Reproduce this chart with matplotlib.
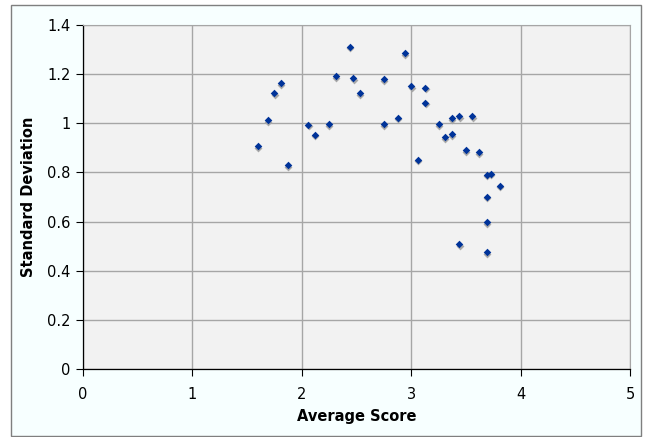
import matplotlib

matplotlib.use("Agg")
import matplotlib.pyplot as plt
from matplotlib.patches import Rectangle
from matplotlib.transforms import offset_copy

avg_score = [
    1.60, 1.69, 1.75, 1.81, 1.87, 2.06, 2.12, 2.25, 2.31, 2.44,
    2.47, 2.53, 2.75, 2.75, 2.88, 2.94, 3.00, 3.06, 3.13, 3.13,
    3.25, 3.31, 3.37, 3.37, 3.44, 3.44, 3.50, 3.56, 3.62, 3.69,
    3.73, 3.69, 3.69, 3.81, 3.69,
]
std_dev = [
    0.906, 1.012, 1.123, 1.164, 0.830, 0.994, 0.954, 0.996, 1.192, 1.312,
    1.183, 1.122, 1.179, 0.996, 1.022, 1.285, 1.152, 0.851, 1.145, 1.084,
    0.997, 0.943, 1.020, 0.955, 1.028, 0.509, 0.891, 1.028, 0.883, 0.791,
    0.795, 0.701, 0.598, 0.746, 0.475,
]
x_ticks = [0, 1, 2, 3, 4, 5]
y_ticks = [0, 0.2, 0.4, 0.6, 0.8, 1.0, 1.2, 1.4]
y_labels = ["0", "0.2", "0.4", "0.6", "0.8", "1", "1.2", "1.4"]

W, H = 651, 437
fig = plt.figure(figsize=(W / 100, H / 100), dpi=100)
fig.patch.set_facecolor("white")

# outer chart frame, kept behind the axes
fig.patches.append(
    Rectangle((11 / W, 1 - 436 / H), 630 / W, 431 / H, transform=fig.transFigure,
              facecolor="#F7FFFF", edgecolor="#7F7F7F", linewidth=1.0, zorder=-1)
)

ax = fig.add_axes([83 / W, 1 - 369 / H, 547 / W, 344 / H])
ax.set_facecolor("#F2F2F2")
ax.set_xlim(0, 5)
ax.set_ylim(0, 1.4)
ax.set_xticks(x_ticks)
ax.set_yticks(y_ticks)
ax.set_yticklabels(y_labels)
ax.grid(True, color="#A6A6A6", linewidth=1.0)
ax.set_axisbelow(True)

for side in ("top", "right"):
    ax.spines[side].set_color("#A6A6A6")
for side in ("left", "bottom"):
    ax.spines[side].set_color("black")
    ax.spines[side].set_linewidth(0.9)

ax.tick_params(axis="both", direction="out", length=5, width=0.8,
               labelsize=10.5, colors="black")
ax.tick_params(axis="x", pad=8)
ax.tick_params(axis="y", pad=4)

# soft drop shadow just under each marker
shadow = offset_copy(ax.transData, fig=fig, x=0.3, y=-1.6, units="dots")
ax.scatter(avg_score, std_dev, marker="D", s=16, color="#A8A8A8",
           linewidths=0, transform=shadow, zorder=3, clip_on=False)
ax.scatter(avg_score, std_dev, marker="D", s=15, color="#003399",
           linewidths=0, zorder=4, clip_on=False)

ax.set_xlabel("Average Score", fontsize=10.5, fontweight="bold", labelpad=5)
ax.set_ylabel("Standard Deviation", fontsize=10.5, fontweight="bold", labelpad=8)

fig.savefig("out.png", dpi=100, facecolor=fig.get_facecolor())
